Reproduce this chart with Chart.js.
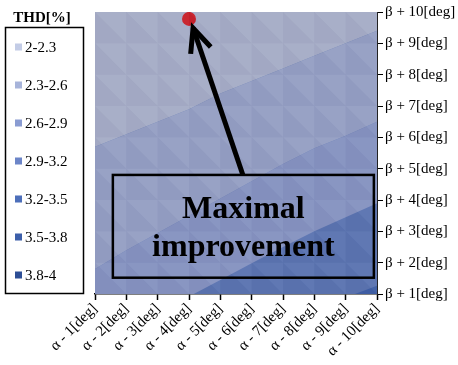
<!DOCTYPE html>
<html>
<head>
<meta charset="utf-8">
<script src="https://cdn.jsdelivr.net/npm/chart.js@4.4.1/dist/chart.umd.min.js"></script>
<style>
  html, body { margin: 0; padding: 0; background: #fff; }
  #wrap { width: 458px; height: 365px; }
</style>
</head>
<body>
<div id="wrap"><canvas id="thdChart" width="458" height="365"></canvas></div>
<script>
// -------------------- DATA --------------------
const xLabels = ['α - 1[deg]', 'α - 2[deg]', 'α - 3[deg]', 'α - 4[deg]', 'α - 5[deg]',
                 'α - 6[deg]', 'α - 7[deg]', 'α - 8[deg]', 'α - 9[deg]', 'α - 10[deg]'];
const yLabels = ['β + 1[deg]', 'β + 2[deg]', 'β + 3[deg]', 'β + 4[deg]', 'β + 5[deg]',
                 'β + 6[deg]', 'β + 7[deg]', 'β + 8[deg]', 'β + 9[deg]', 'β + 10[deg]'];
const gridX = [1, 2, 3, 4, 5, 6, 7, 8, 9, 10];

// contour lines between THD bands (y position, in β steps, at each α step)
const bound1 = [5.7, 6.1, 6.5, 6.9, 7.4, 7.8, 8.2, 8.6, 9.0, 9.4];
const bound2 = [1.8, 2.4, 2.95, 3.5, 4.05, 4.6, 5.15, 5.65, 6.05, 6.5];
const bound3 = [-0.6, -0.1, 0.4, 0.92, 1.45, 1.98, 2.5, 3.0, 3.45, 3.9];
const bound4 = [-2.07, -1.7, -1.33, -0.96, -0.59, -0.22, 0.15, 0.52, 0.89, 1.26];

// band colours in the plot (top = lowest THD)
const bandColors = ['#a6adc7', '#959fc4', '#8693c1', '#5b74b1', '#3f5fa6'];

// legend
const legendLabels = ['2-2.3', '2.3-2.6', '2.6-2.9', '2.9-3.2', '3.2-3.5', '3.5-3.8', '3.8-4'];
const legendColors = ['#c3cce6', '#a7b4da', '#8a9cd2', '#6c85c8', '#4d6fba', '#3c5faa', '#2d4e95'];

// annotation (data units)
const bestPoint = [{ x: 4, y: 9.78 }];
const arrowTip = { x: 4.13, y: 9.49 };
const arrowTail = { x: 5.72, y: 4.8 };
const noteBox = { x0: 1.57, x1: 9.9, y0: 4.8, y1: 1.52 };
const noteText = ['Maximal', 'improvement'];

const serif = "'Liberation Serif', 'Times New Roman', serif";
const pts = (arr) => gridX.map((x, i) => ({ x: x, y: arr[i] }));

// -------------------- PLUGINS --------------------
const bandBackground = {
    id: 'bandBackground',
    beforeDatasetsDraw(chart) {
        const a = chart.chartArea, c = chart.ctx;
        c.save();
        c.fillStyle = bandColors[3];
        c.fillRect(a.left, a.top, a.right - a.left, a.bottom - a.top);
        c.restore();
    }
};

// faint triangular facets of the surface cells
const facets = {
    id: 'facets',
    afterDatasetsDraw(chart) {
        const xs = chart.scales.x, ys = chart.scales.y, c = chart.ctx;
        c.save();
        for (let i = 1; i < 10; i++) {
            for (let j = 1; j < 10; j++) {
                const xa = xs.getPixelForValue(i), xb = xs.getPixelForValue(i + 1);
                const ya = ys.getPixelForValue(j), yb = ys.getPixelForValue(j + 1);
                c.fillStyle = 'rgba(60,60,80,0.035)';
                c.beginPath();
                c.moveTo(xa, yb); c.lineTo(xa, ya); c.lineTo(xb, ya); c.closePath();
                c.fill();
                c.fillStyle = 'rgba(255,255,255,0.03)';
                c.beginPath();
                c.moveTo(xa, yb); c.lineTo(xb, yb); c.lineTo(xb, ya); c.closePath();
                c.fill();
            }
        }
        c.restore();
    }
};

const annotation = {
    id: 'annotation',
    afterDraw(chart) {
        const xs = chart.scales.x, ys = chart.scales.y, c = chart.ctx;
        const px = (v) => xs.getPixelForValue(v), py = (v) => ys.getPixelForValue(v);
        c.save();
        // arrow
        const tx = px(arrowTip.x), ty = py(arrowTip.y);
        const sx = px(arrowTail.x), sy = py(arrowTail.y);
        c.strokeStyle = '#000';
        c.lineWidth = 5;
        c.lineCap = 'butt';
        c.beginPath(); c.moveTo(sx, sy); c.lineTo(tx, ty); c.stroke();
        const ang = Math.atan2(sy - ty, sx - tx);
        c.beginPath();
        c.moveTo(tx + 26 * Math.cos(ang - 0.42), ty + 26 * Math.sin(ang - 0.42));
        c.lineTo(tx, ty);
        c.lineTo(tx + 26 * Math.cos(ang + 0.42), ty + 26 * Math.sin(ang + 0.42));
        c.stroke();
        // box
        const bx = px(noteBox.x0), bx1 = px(noteBox.x1), by = py(noteBox.y0), by1 = py(noteBox.y1);
        c.lineWidth = 2.5;
        c.strokeRect(bx, by, bx1 - bx, by1 - by);
        c.fillStyle = '#000';
        c.font = 'bold 32px ' + serif;
        c.textAlign = 'center';
        c.textBaseline = 'alphabetic';
        const cx = (bx + bx1) / 2;
        c.fillText(noteText[0], cx, by + 43);
        c.fillText(noteText[1], cx, by + 81);
        c.restore();
    }
};

const sideLegend = {
    id: 'sideLegend',
    afterDraw(chart) {
        const c = chart.ctx;
        c.save();
        c.fillStyle = '#000';
        c.font = 'bold 15px ' + serif;
        c.textAlign = 'center';
        c.textBaseline = 'middle';
        c.fillText('THD[%]', 42, 18);
        c.strokeStyle = '#000';
        c.lineWidth = 1.5;
        c.strokeRect(5.5, 27.5, 78, 266);
        c.font = '15px ' + serif;
        c.textAlign = 'left';
        legendLabels.forEach((lab, i) => {
            const y = 47 + i * 38;
            c.fillStyle = legendColors[i];
            c.fillRect(15, y - 3.5, 7, 7);
            c.fillStyle = '#000';
            c.fillText(lab, 25, y + 1);
        });
        c.restore();
    }
};

// -------------------- CHART --------------------
const ctx = document.getElementById('thdChart').getContext('2d');
new Chart(ctx, {
    type: 'line',
    data: {
        datasets: [
            { data: bestPoint, showLine: false, pointRadius: 7, pointHoverRadius: 7,
              pointBackgroundColor: '#c8202a', pointBorderColor: '#c8202a', fill: false },
            { data: pts(bound1), fill: 'end', backgroundColor: bandColors[0] },
            { data: pts(bound2), fill: '-1', backgroundColor: bandColors[1] },
            { data: pts(bound3), fill: '-1', backgroundColor: bandColors[2] },
            { data: pts(bound4), fill: 'start', backgroundColor: bandColors[4] }
        ].map((d, i) => Object.assign({ borderWidth: 0, pointRadius: 0, tension: 0 }, d, { order: i === 0 ? 0 : 1 }))
    },
    options: {
        responsive: false,
        animation: false,
        events: [],
        layout: { padding: { left: 95, top: 12, right: 0, bottom: 0 } },
        plugins: {
            legend: { display: false },
            tooltip: { enabled: false }
        },
        scales: {
            x: {
                type: 'linear',
                min: 1, max: 10,
                grid: { drawOnChartArea: false, tickLength: 6, color: '#000', tickWidth: 1.5 },
                border: { color: '#000', width: 1.5 },
                afterBuildTicks: (s) => { s.ticks = gridX.map(v => ({ value: v })); },
                afterFit: (s) => { s.height = 71; },
                ticks: {
                    minRotation: 45, maxRotation: 45, padding: 0, autoSkip: false,
                    color: '#000', font: { family: serif, size: 15 },
                    callback: (v) => xLabels[v - 1]
                }
            },
            y: {
                type: 'linear',
                position: 'right',
                min: 1, max: 10,
                grid: { drawOnChartArea: false, tickLength: 6, color: '#000', tickWidth: 1 },
                border: { color: '#222', width: 1 },
                afterBuildTicks: (s) => { s.ticks = gridX.map(v => ({ value: v })); },
                afterFit: (s) => { s.width = 81; },
                ticks: {
                    padding: 2, autoSkip: false,
                    color: '#000', font: { family: serif, size: 15 },
                    callback: (v) => yLabels[v - 1]
                }
            }
        }
    },
    plugins: [bandBackground, facets, annotation, sideLegend]
});
</script>
</body>
</html>
